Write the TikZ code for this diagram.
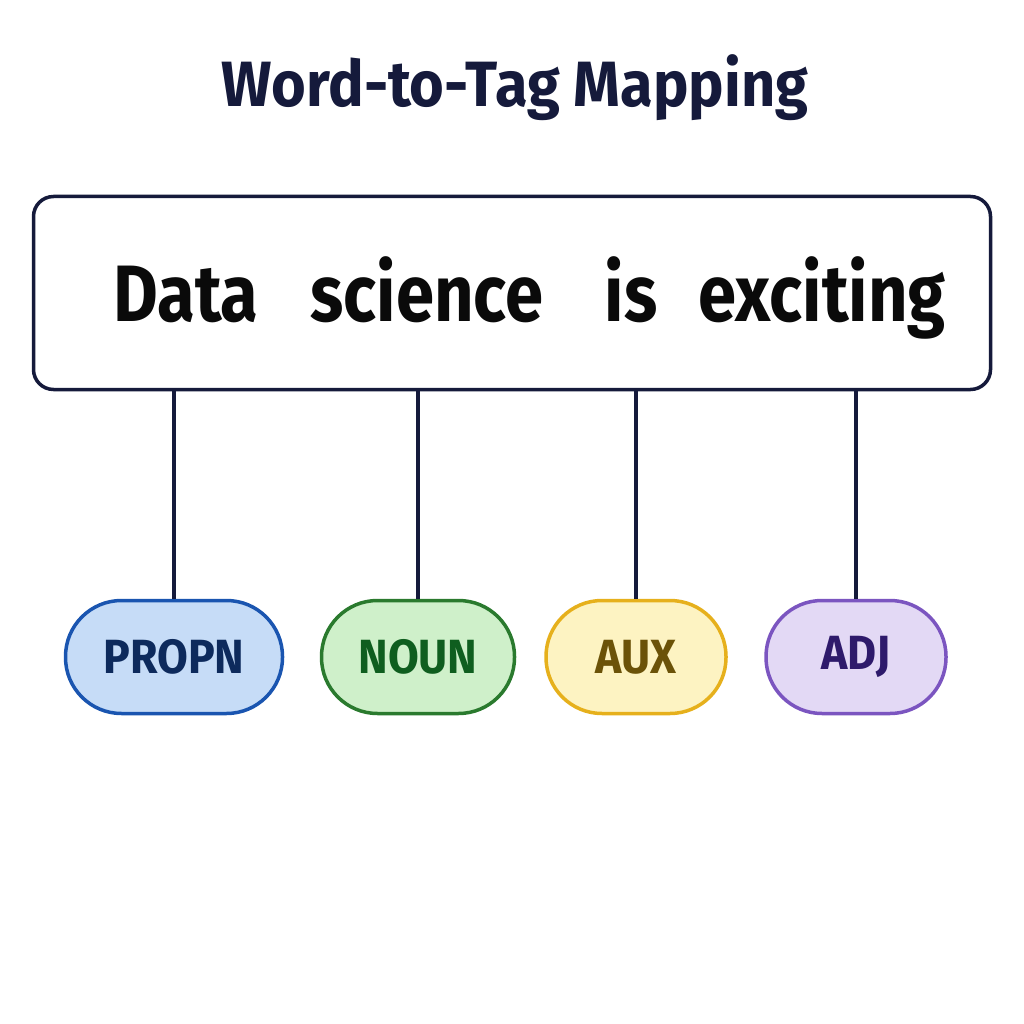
\documentclass[tikz,border=0pt]{standalone}
\usepackage{fontspec}
\newfontfamily\cf{Fira Sans}[FakeStretch=0.86]
\newfontfamily\cfw{Fira Sans}[FakeStretch=0.93]
\definecolor{navy}{HTML}{151A3B}
\definecolor{ink}{HTML}{0A0A0A}
\definecolor{bfill}{HTML}{C6DCF7}\definecolor{bdraw}{HTML}{1A55B0}\definecolor{btext}{HTML}{0D2A5C}
\definecolor{gfill}{HTML}{CFF0CA}\definecolor{gdraw}{HTML}{2A7A2E}\definecolor{gtext}{HTML}{0F5E1F}
\definecolor{yfill}{HTML}{FDF3C2}\definecolor{ydraw}{HTML}{E6B01C}\definecolor{ytext}{HTML}{6B5208}
\definecolor{pfill}{HTML}{E3D9F5}\definecolor{pdraw}{HTML}{7B55C0}\definecolor{ptext}{HTML}{2E1A6B}
\begin{document}
\begin{tikzpicture}[x=1pt,y=-1pt,
  tagbox/.style={rounded corners=56pt, minimum height=113pt, inner sep=0pt, line width=3.5pt,
    font={\cfw\bfseries\fontsize{48}{48}\selectfont}},
  word/.style={anchor=base, text=ink, inner sep=0pt, font={\cf\bfseries\fontsize{80}{80}\selectfont}},
  conn/.style={draw=navy, line width=3.5pt}]
\useasboundingbox[fill=white] (0,0) rectangle (1024,1024);
\node[text=navy, font={\cfw\bfseries\fontsize{64}{64}\selectfont}, anchor=base, inner sep=0pt] (title) at (515,107) {Word-to-Tag Mapping};
\node[draw=navy, line width=3.5pt, rounded corners=20pt, minimum width=957pt, minimum height=193pt, inner sep=0pt] (box) at (512,293) {};
\node[word] (w1) at (186,321) {Data};
\node[word] (w2) at (427,321) {science};
\node[word] (w3) at (631,321) {is};
\node[word] (w4) at (822,321) {exciting};
\node[tagbox, fill=bfill, draw=bdraw, text=btext, minimum width=217pt] (t1) at (174,657) {PROPN};
\node[tagbox, fill=gfill, draw=gdraw, text=gtext, minimum width=193pt] (t2) at (418,657) {NOUN};
\node[tagbox, fill=yfill, draw=ydraw, text=ytext, minimum width=180pt] (t3) at (636,657) {AUX};
\node[tagbox, fill=pfill, draw=pdraw, text=ptext, minimum width=180pt] (t4) at (856,657) {ADJ};
\foreach \t in {t1,t2,t3,t4}{
  \draw[conn] (\t.north |- box.south) -- (\t.north);
}
\end{tikzpicture}
\end{document}
